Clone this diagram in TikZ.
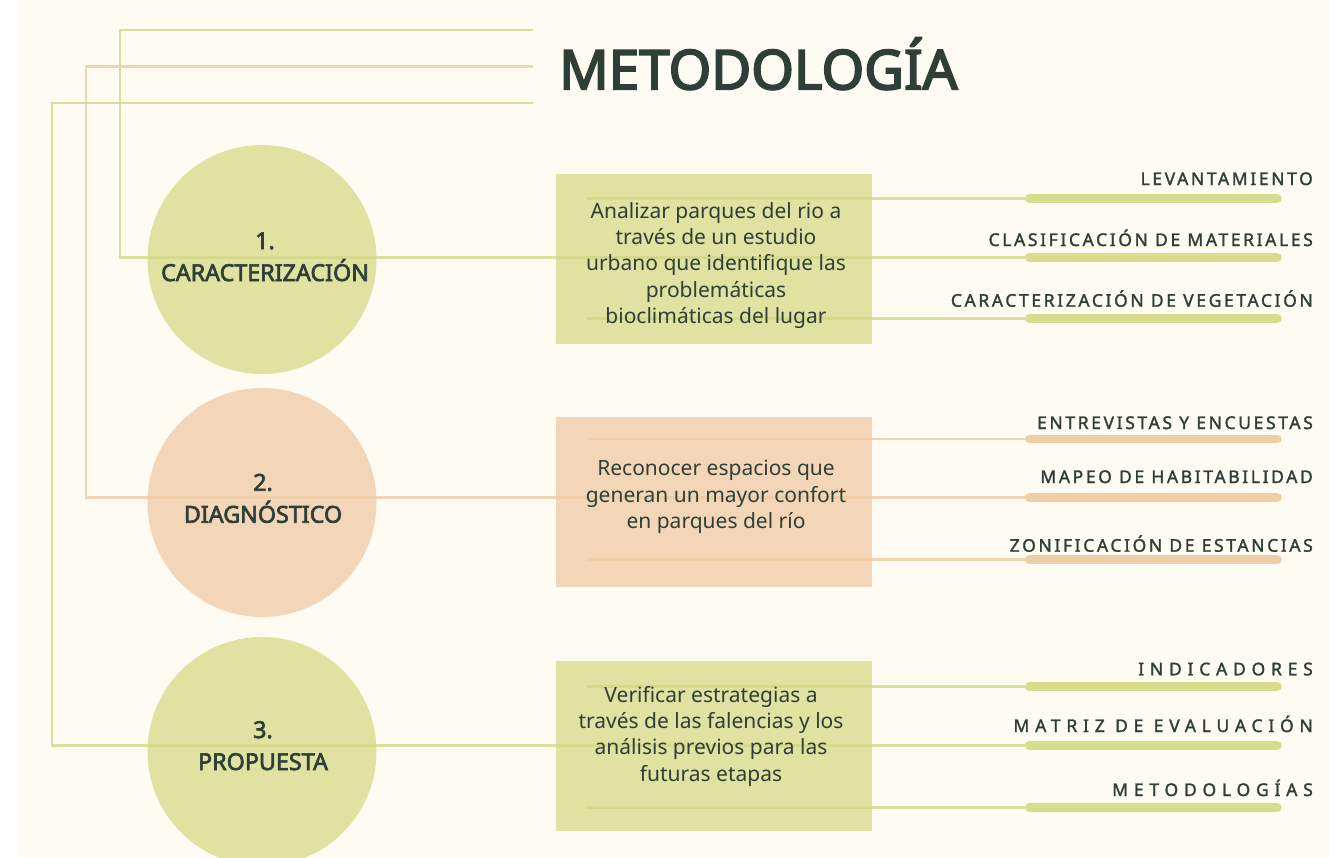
\documentclass[tikz,border=0pt]{standalone}
\usepackage{fontspec}
\setmainfont{Noto Sans}
\newfontfamily\titlefont[FakeBold=3.4]{Noto Sans}
\newfontfamily\heavyfont[FakeBold=2.8]{Noto Sans}
\newfontfamily\lblfont[LetterSpace=15,FakeBold=1.6]{Noto Sans}
\newfontfamily\lblwide[LetterSpace=33,FakeBold=1.6]{Noto Sans}
\definecolor{cream}{HTML}{FEFBF3}
\definecolor{sage}{HTML}{DFE2A0}
\definecolor{peach}{HTML}{F2D6B7}
\definecolor{ink}{HTML}{2F3F37}
\definecolor{sageline}{HTML}{D3D886}
\definecolor{peachline}{HTML}{EDCBA3}
\definecolor{sagebar}{HTML}{D8DC8D}
\definecolor{peachbar}{HTML}{EFCEA6}
\begin{document}
\begin{tikzpicture}[x=1pt,y=-1pt,
  circ/.style={circle,draw=none,minimum size=229pt,inner sep=0pt},
  boxst/.style={rectangle,draw=none,minimum width=316pt,minimum height=170pt,inner sep=0pt},
  gline/.style={draw=sageline,line width=2.8pt,opacity=0.8},
  pline/.style={draw=peachline,line width=2.8pt,opacity=0.8},
  gbar/.style={draw=sagebar,line width=8.7pt,line cap=round,shorten <=4.35pt,shorten >=4.35pt},
  pbar/.style={draw=peachbar,line width=8.7pt,line cap=round,shorten <=4.35pt,shorten >=4.35pt},
  body/.style={text=ink,align=center,inner sep=0pt,anchor=base,font=\fontsize{21}{26.2}\selectfont},
  ctitle/.style={text=ink,align=center,inner sep=0pt,anchor=base,font=\heavyfont\fontsize{23.3}{32}\selectfont},
  lbl/.style={text=ink,inner sep=0pt,anchor=base east,font=\lblfont\fontsize{17.5}{19}\selectfont},
  lblw/.style={text=ink,inner sep=0pt,anchor=base east,font=\lblwide\fontsize{17.5}{19}\selectfont}
]
\useasboundingbox (0,0) rectangle (1329,857);
\fill[white] (0,0) rectangle (1329,857);
\fill[cream] (18,0) rectangle (1329,857);
\begin{scope}
\clip (0,0) rectangle (1329,857);
% circles
\node[circ,fill=sage]  (c1) at (262,259.5) {};
\node[circ,fill=peach] (c2) at (262,502.5) {};
\node[circ,fill=sage]  (c3) at (262,751.5) {};
% boxes
\node[boxst,fill=sage]  (b1) at (714,259) {};
\node[boxst,fill=peach] (b2) at (714,502) {};
\node[boxst,fill=sage]  (b3) at (714,746) {};
% top lines and main connectors
\coordinate (t1) at (532.5,30);   \coordinate (k1) at (120,30);
\coordinate (t2) at (532.5,66.5); \coordinate (k2) at (86,66.5);
\coordinate (t3) at (532.5,103);  \coordinate (k3) at (52,103);
% bar start / end coordinates
\foreach \g/\ya/\yb/\yc in {1/198.3/257.5/318.3, 2/439/497.5/559.3, 3/686.7/745.5/807.3}{
  \coordinate (a\g1) at (1025,\ya);   \coordinate (e\g1) at (1281.7,\ya);   \coordinate (s\g1) at (587,\ya);
  \coordinate (a\g2) at (1025,\yb);   \coordinate (e\g2) at (1281.7,\yb);
  \coordinate (a\g3) at (1025,\yc);   \coordinate (e\g3) at (1281.7,\yc);   \coordinate (s\g3) at (587,\yc);
}
\draw[gline] (t1) -- (k1) |- (a12);
\draw[pline] (t2) -- (k2) |- (a22);
\draw[gline] (t3) -- (k3) |- (a32);
\draw[gline] (s11) -- (a11);
\draw[gline] (s13) -- (a13);
\draw[pline] (s21) -- (a21);
\draw[pline] (s23) -- (a23);
\draw[gline] (s31) -- (a31);
\draw[gline] (s33) -- (a33);
% bars
\draw[gbar] (a11) -- (e11); \draw[gbar] (a12) -- (e12); \draw[gbar] (a13) -- (e13);
\draw[pbar] (a21) -- (e21); \draw[pbar] (a22) -- (e22); \draw[pbar] (a23) -- (e23);
\draw[gbar] (a31) -- (e31); \draw[gbar] (a32) -- (e32); \draw[gbar] (a33) -- (e33);
\end{scope}
% title
\node[text=ink,inner sep=0pt,anchor=base west,font=\titlefont\fontsize{54.7}{60}\selectfont] (title) at (559,89.3) {METODOLOGÍA};
% circle labels (anchor = baseline of last line)
\node[ctitle] (n1) at (265,281) {1.\\CARACTERIZACIÓN};
\node[ctitle] (n2) at (263,522.7) {2.\\DIAGNÓSTICO};
\node[ctitle] (n3) at (263,770) {3.\\PROPUESTA};
% box texts (anchor = baseline of last line)
\node[body] (x1) at (716,323.3) {Analizar parques del rio a\\través de un estudio\\urbano que identifique las\\problemáticas\\bioclimáticas del lugar};
\node[body] (x2) at (716,528.3) {Reconocer espacios que\\generan un mayor confort\\en parques del río};
\node[body] (x3) at (711,781) {Verificar estrategias a\\través de las falencias y los\\análisis previos para las\\futuras etapas};
% right labels
\node[lbl] (l11) at (1313,185) {LEVANTAMIENTO};
\node[lbl] (l12) at (1313,246) {CLASIFICACIÓN DE MATERIALES};
\node[lbl] (l13) at (1313,306.7) {CARACTERIZACIÓN DE VEGETACIÓN};
\node[lbl] (l21) at (1313,429) {ENTREVISTAS Y ENCUESTAS};
\node[lbl] (l22) at (1313,483) {MAPEO DE HABITABILIDAD};
\node[lbl] (l23) at (1313,551.7) {ZONIFICACIÓN DE ESTANCIAS};
\node[lblw] (l31) at (1313,675.3) {INDICADORES};
\node[lblw] (l32) at (1313,732) {MATRIZ DE EVALUACIÓN};
\node[lblw] (l33) at (1313,796) {METODOLOGÍAS};
\end{tikzpicture}
\end{document}
